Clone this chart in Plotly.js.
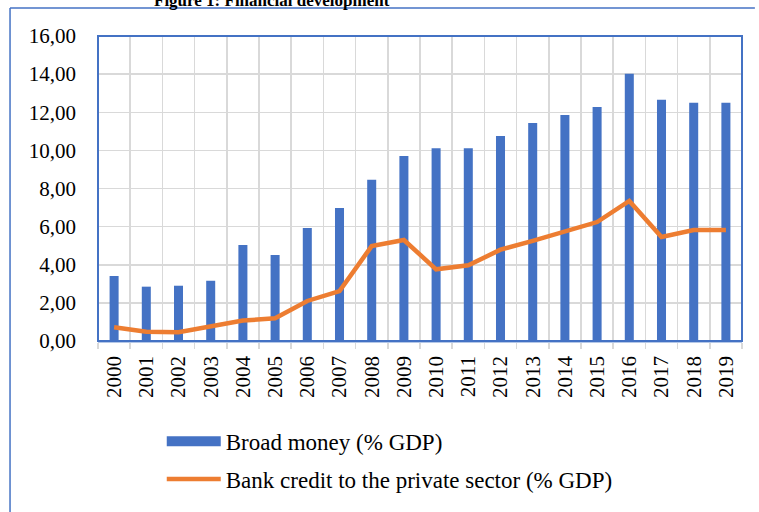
<!DOCTYPE html>
<html>
<head>
<meta charset="utf-8">
<script src="https://cdn.plot.ly/plotly-3.0.1.min.js"></script>
<style>html,body{margin:0;padding:0;background:#fff;overflow:hidden;}#chart{width:759px;height:512px;}</style>
</head>
<body>
<div id="chart"></div>
<script>
var years = ["2000","2001","2002","2003","2004","2005","2006","2007","2008","2009","2010","2011","2012","2013","2014","2015","2016","2017","2018","2019"];
var broadMoney = [3.41,2.85,2.90,3.16,5.04,4.51,5.93,6.98,8.46,9.71,10.11,10.11,10.76,11.44,11.86,12.28,14.02,12.65,12.50,12.50];
var bankCredit = [0.72,0.49,0.46,0.79,1.07,1.19,2.10,2.62,4.98,5.30,3.76,3.97,4.79,5.25,5.72,6.24,7.35,5.46,5.82,5.82];
var seriesNames = ["Broad money (% GDP)", "Bank credit to the private sector (% GDP)"];
var titleText = "Figure 1: Financial development";

var FONT = "Liberation Serif, Times New Roman, serif";
var BLUE = "#4472C4", ORANGE = "#ED7D31";

var traces = [
  {type:"bar", x:years, y:broadMoney, name:seriesNames[0], marker:{color:BLUE}, width:0.28, showlegend:false, legendgroup:"a"},
  // legend entry for the bars (wide rectangle like the reference)
  {type:"scatter", mode:"lines", x:[null], y:[null], name:seriesNames[0], line:{color:BLUE, width:11}, legendgroup:"a", showlegend:true},
  {type:"scatter", mode:"lines", x:years, y:bankCredit, name:seriesNames[1], line:{color:ORANGE, width:4.5, shape:"linear"}, legendgroup:"b"}
];

var layout = {
  width:759, height:512,
  margin:{l:98, r:17, t:36, b:171, autoexpand:false},
  paper_bgcolor:"#fff", plot_bgcolor:"#fff",
  separators:", ",
  font:{family:FONT, size:21, color:"#000"},
  showlegend:true,
  legend:{x:0.099, xanchor:"left", y:-0.258, yanchor:"top", font:{family:FONT, size:23, color:"#000"}, tracegroupgap:5, itemwidth:54, bgcolor:"rgba(0,0,0,0)"},
  xaxis:{type:"category", tickson:"boundaries", showgrid:true, gridcolor:"#D9D9D9", gridwidth:1.5,
         ticks:"outside", ticklen:6, tickcolor:"#D9D9D9", tickwidth:1.5, tickangle:-90, ticklabelstandoff:5,
         showline:true, linecolor:"#B4C7E7", linewidth:1.5, tickfont:{family:FONT, size:21}, fixedrange:true},
  yaxis:{range:[0,16], dtick:2, tickformat:".2f", showgrid:true, gridcolor:"#D9D9D9", gridwidth:1.5,
         zeroline:false, ticks:"", ticklabelstandoff:21, tickfont:{family:FONT, size:21}, fixedrange:true},
  bargap:0.72,
  shapes:[
    {type:"rect", xref:"paper", yref:"paper", x0:0, x1:1, y0:0, y1:1, line:{color:BLUE, width:2}, layer:"above"},
    {type:"line", xref:"paper", yref:"paper", x0:-0.1366, x1:-0.1366, y0:-0.6, y1:1.0918, line:{color:BLUE, width:1.5}, layer:"below"},
    {type:"line", xref:"paper", yref:"paper", x0:-0.1366, x1:1.02, y0:1.0918, y1:1.0918, line:{color:BLUE, width:1.5}, layer:"below"}
  ],
  annotations:[
    {text:"<b>"+titleText+"</b>", xref:"paper", yref:"paper", x:0.27, y:1.0787, xanchor:"center", yanchor:"bottom", showarrow:false, font:{family:FONT, size:17, color:"#000"}}
  ]
};

Plotly.newPlot("chart", traces, layout, {displayModeBar:false, staticPlot:true});
</script>
</body>
</html>
